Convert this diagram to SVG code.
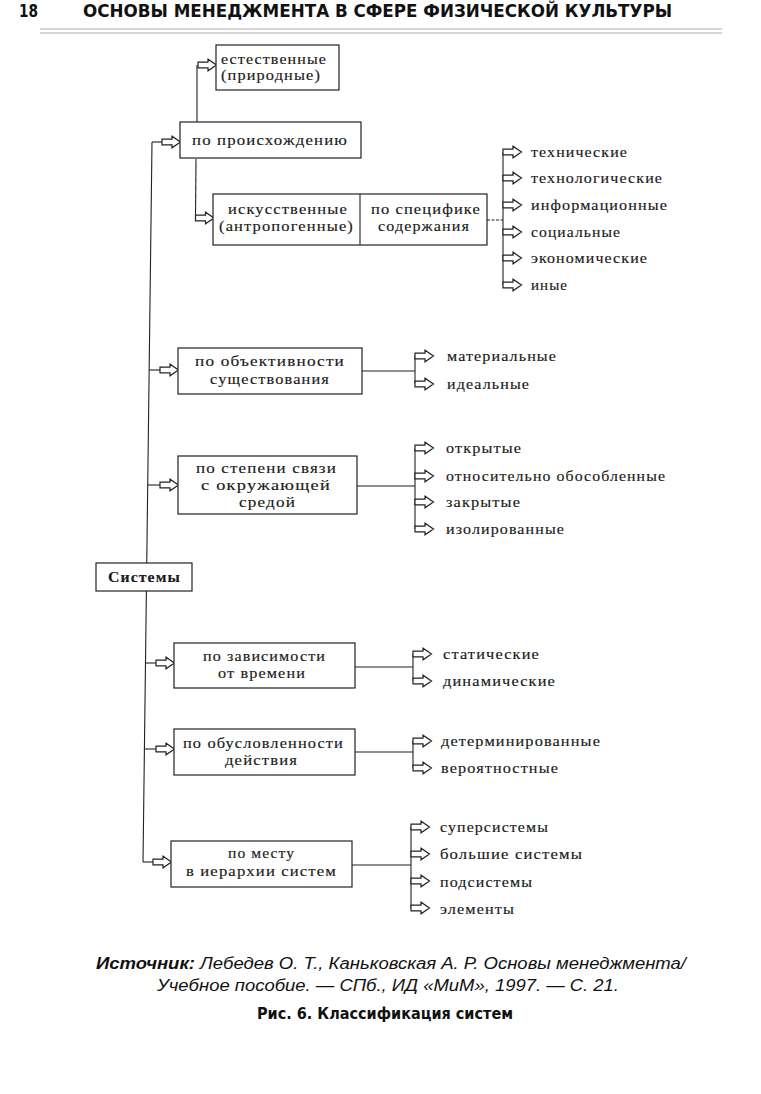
<svg xmlns="http://www.w3.org/2000/svg" xmlns:xlink="http://www.w3.org/1999/xlink" width="761" height="1094" viewBox="0 0 761 1094">
<style>
.bg{fill:#ffffff}
.box{fill:#ffffff;stroke:#222;stroke-width:1.2}
.ln{fill:none;stroke:#222;stroke-width:1.1}
.t{font-family:"Liberation Serif","DejaVu Serif",serif;font-size:14.5px;fill:#1a1a1a;stroke:#1a1a1a;stroke-width:0.15;letter-spacing:1px}
.hd{font-family:"DejaVu Sans Condensed","DejaVu Sans",sans-serif;font-weight:bold;font-size:17px;fill:#111}
.cap{font-family:"Liberation Sans","Open Sans",sans-serif;font-style:italic;font-size:16px;fill:#111}
.fig{font-family:"DejaVu Sans Condensed","DejaVu Sans",sans-serif;font-weight:bold;font-size:16px;fill:#111}
</style>
<defs>
<path id="arr" d="M0,-2.8 H10 V-5.8 L18.5,0 L10,5.8 V2.8 H0 Z" fill="#ffffff" stroke="#222" stroke-width="1.2" stroke-linejoin="miter"/>
</defs>
<rect class="bg" x="0" y="0" width="761" height="1094"/>

<g id="header">
<text class="hd" x="19" y="17" textLength="19" lengthAdjust="spacingAndGlyphs">18</text>
<text class="hd" x="83" y="17" textLength="589" lengthAdjust="spacingAndGlyphs">ОСНОВЫ МЕНЕДЖМЕНТА В СФЕРЕ ФИЗИЧЕСКОЙ КУЛЬТУРЫ</text>
<line x1="40" y1="29" x2="722" y2="29" stroke="#999" stroke-width="0.8"/>
<line x1="40" y1="33" x2="722" y2="33" stroke="#999" stroke-width="0.8"/>
</g>

<g id="connectors">
<!-- trunk -->
<line class="ln" x1="152" y1="142" x2="143" y2="862"/>
<line class="ln" x1="152" y1="142" x2="162" y2="142"/>
<use xlink:href="#arr" x="162" y="142"/>
<line class="ln" x1="149.2" y1="370" x2="160" y2="370"/>
<use xlink:href="#arr" x="160" y="370"/>
<line class="ln" x1="147.7" y1="485" x2="160" y2="485"/>
<use xlink:href="#arr" x="160" y="485"/>
<line class="ln" x1="145.5" y1="663" x2="156" y2="663"/>
<use xlink:href="#arr" x="156" y="663"/>
<line class="ln" x1="144.4" y1="749" x2="156" y2="749"/>
<use xlink:href="#arr" x="156" y="749"/>
<line class="ln" x1="143" y1="862" x2="153" y2="862"/>
<use xlink:href="#arr" x="153" y="862"/>
<!-- origin branch -->
<line class="ln" x1="197" y1="65" x2="197" y2="122"/>
<use xlink:href="#arr" x="198" y="65"/>
<line class="ln" x1="196" y1="159" x2="195.5" y2="218"/>
<use xlink:href="#arr" x="195.5" y="218"/>
<!-- content branch -->
<line class="ln" x1="487" y1="220" x2="503" y2="220" stroke-dasharray="3 1.5"/>
<line class="ln" x1="503" y1="152" x2="503" y2="285"/>
<use xlink:href="#arr" x="503" y="152"/>
<use xlink:href="#arr" x="503" y="178"/>
<use xlink:href="#arr" x="503" y="205"/>
<use xlink:href="#arr" x="503" y="232"/>
<use xlink:href="#arr" x="503" y="258"/>
<use xlink:href="#arr" x="503" y="285"/>
<!-- objectivity -->
<line class="ln" x1="362" y1="371" x2="415" y2="371"/>
<line class="ln" x1="415" y1="356" x2="415" y2="384"/>
<use xlink:href="#arr" x="415" y="356"/>
<use xlink:href="#arr" x="415" y="384"/>
<!-- environment -->
<line class="ln" x1="357" y1="486" x2="415" y2="486"/>
<line class="ln" x1="415" y1="448" x2="415" y2="529"/>
<use xlink:href="#arr" x="415" y="448"/>
<use xlink:href="#arr" x="415" y="476"/>
<use xlink:href="#arr" x="415" y="502"/>
<use xlink:href="#arr" x="415" y="529"/>
<!-- time -->
<line class="ln" x1="355" y1="667" x2="413" y2="667"/>
<line class="ln" x1="413" y1="654" x2="413" y2="681"/>
<use xlink:href="#arr" x="413" y="654"/>
<use xlink:href="#arr" x="413" y="681"/>
<!-- action -->
<line class="ln" x1="355" y1="752" x2="413" y2="752"/>
<line class="ln" x1="413" y1="741" x2="413" y2="768"/>
<use xlink:href="#arr" x="413" y="741"/>
<use xlink:href="#arr" x="413" y="768"/>
<!-- hierarchy -->
<line class="ln" x1="352" y1="865" x2="411" y2="865"/>
<line class="ln" x1="411" y1="827" x2="411" y2="908"/>
<use xlink:href="#arr" x="411" y="827"/>
<use xlink:href="#arr" x="411" y="854"/>
<use xlink:href="#arr" x="411" y="881"/>
<use xlink:href="#arr" x="411" y="908"/>
</g>

<g id="natural">
<rect class="box" x="216" y="45" width="123" height="45"/>
<text class="t" x="221" y="64" textLength="106" lengthAdjust="spacingAndGlyphs">естественные</text>
<text class="t" x="221" y="80" textLength="100" lengthAdjust="spacingAndGlyphs">(природные)</text>
</g>

<g id="origin">
<rect class="box" x="180" y="122" width="181" height="36"/>
<text class="t" x="192" y="145" textLength="156" lengthAdjust="spacingAndGlyphs">по происхождению</text>
</g>

<g id="artificial">
<rect class="box" x="213" y="194" width="274" height="51"/>
<line class="ln" x1="360" y1="194" x2="360" y2="245"/>
<text class="t" x="228" y="214" textLength="120" lengthAdjust="spacingAndGlyphs">искусственные</text>
<text class="t" x="219" y="231" textLength="135" lengthAdjust="spacingAndGlyphs">(антропогенные)</text>
<text class="t" x="371" y="214" textLength="110" lengthAdjust="spacingAndGlyphs">по специфике</text>
<text class="t" x="378" y="231" textLength="92" lengthAdjust="spacingAndGlyphs">содержания</text>
</g>

<g id="content-items">
<text class="t" x="531" y="157" textLength="97" lengthAdjust="spacingAndGlyphs">технические</text>
<text class="t" x="531" y="183" textLength="132" lengthAdjust="spacingAndGlyphs">технологические</text>
<text class="t" x="531" y="210" textLength="137" lengthAdjust="spacingAndGlyphs">информационные</text>
<text class="t" x="531" y="237" textLength="90" lengthAdjust="spacingAndGlyphs">социальные</text>
<text class="t" x="531" y="263" textLength="117" lengthAdjust="spacingAndGlyphs">экономические</text>
<text class="t" x="531" y="290" textLength="37" lengthAdjust="spacingAndGlyphs">иные</text>
</g>

<g id="objectivity">
<rect class="box" x="178" y="348" width="184" height="46"/>
<text class="t" x="195" y="366" textLength="150" lengthAdjust="spacingAndGlyphs">по объективности</text>
<text class="t" x="210" y="384" textLength="120" lengthAdjust="spacingAndGlyphs">существования</text>
</g>
<g id="objectivity-items">
<text class="t" x="447" y="361" textLength="110" lengthAdjust="spacingAndGlyphs">материальные</text>
<text class="t" x="447" y="389" textLength="83" lengthAdjust="spacingAndGlyphs">идеальные</text>
</g>

<g id="environment">
<rect class="box" x="178" y="456" width="179" height="58"/>
<text class="t" x="196" y="473" textLength="141" lengthAdjust="spacingAndGlyphs">по степени связи</text>
<text class="t" x="201" y="490" textLength="130" lengthAdjust="spacingAndGlyphs">с окружающей</text>
<text class="t" x="239" y="507" textLength="57" lengthAdjust="spacingAndGlyphs">средой</text>
</g>
<g id="environment-items">
<text class="t" x="446" y="453" textLength="76" lengthAdjust="spacingAndGlyphs">открытые</text>
<text class="t" x="446" y="481" textLength="220" lengthAdjust="spacingAndGlyphs">относительно обособленные</text>
<text class="t" x="446" y="507" textLength="75" lengthAdjust="spacingAndGlyphs">закрытые</text>
<text class="t" x="446" y="534" textLength="119" lengthAdjust="spacingAndGlyphs">изолированные</text>
</g>

<g id="systems">
<rect class="box" x="96" y="563" width="96" height="28"/>
<text class="t" x="108" y="582" textLength="73" lengthAdjust="spacingAndGlyphs" font-weight="bold">Системы</text>
</g>

<g id="time">
<rect class="box" x="174" y="643" width="181" height="45"/>
<text class="t" x="203" y="661" textLength="123" lengthAdjust="spacingAndGlyphs">по зависимости</text>
<text class="t" x="218" y="678" textLength="88" lengthAdjust="spacingAndGlyphs">от времени</text>
</g>
<g id="time-items">
<text class="t" x="443" y="659" textLength="97" lengthAdjust="spacingAndGlyphs">статические</text>
<text class="t" x="443" y="686" textLength="113" lengthAdjust="spacingAndGlyphs">динамические</text>
</g>

<g id="action">
<rect class="box" x="174" y="729" width="181" height="46"/>
<text class="t" x="183" y="748" textLength="161" lengthAdjust="spacingAndGlyphs">по обусловленности</text>
<text class="t" x="225" y="765" textLength="73" lengthAdjust="spacingAndGlyphs">действия</text>
</g>
<g id="action-items">
<text class="t" x="441" y="746" textLength="160" lengthAdjust="spacingAndGlyphs">детерминированные</text>
<text class="t" x="441" y="773" textLength="118" lengthAdjust="spacingAndGlyphs">вероятностные</text>
</g>

<g id="hierarchy">
<rect class="box" x="171" y="841" width="181" height="46"/>
<text class="t" x="228" y="858" textLength="67" lengthAdjust="spacingAndGlyphs">по месту</text>
<text class="t" x="186" y="876" textLength="151" lengthAdjust="spacingAndGlyphs">в иерархии систем</text>
</g>
<g id="hierarchy-items">
<text class="t" x="440" y="832" textLength="109" lengthAdjust="spacingAndGlyphs">суперсистемы</text>
<text class="t" x="440" y="859" textLength="143" lengthAdjust="spacingAndGlyphs">большие системы</text>
<text class="t" x="440" y="887" textLength="93" lengthAdjust="spacingAndGlyphs">подсистемы</text>
<text class="t" x="440" y="914" textLength="75" lengthAdjust="spacingAndGlyphs">элементы</text>
</g>

<g id="caption">
<text class="cap" x="96" y="969" textLength="590" lengthAdjust="spacingAndGlyphs"><tspan font-weight="bold">Источник:</tspan> Лебедев О. Т., Каньковская А. Р. Основы менеджмента/</text>
<text class="cap" x="157" y="991" textLength="462" lengthAdjust="spacingAndGlyphs">Учебное пособие. — СПб., ИД «МиМ», 1997. — С. 21.</text>
<text class="fig" x="257" y="1019" textLength="256" lengthAdjust="spacingAndGlyphs">Рис. 6. Классификация систем</text>
</g>
</svg>
